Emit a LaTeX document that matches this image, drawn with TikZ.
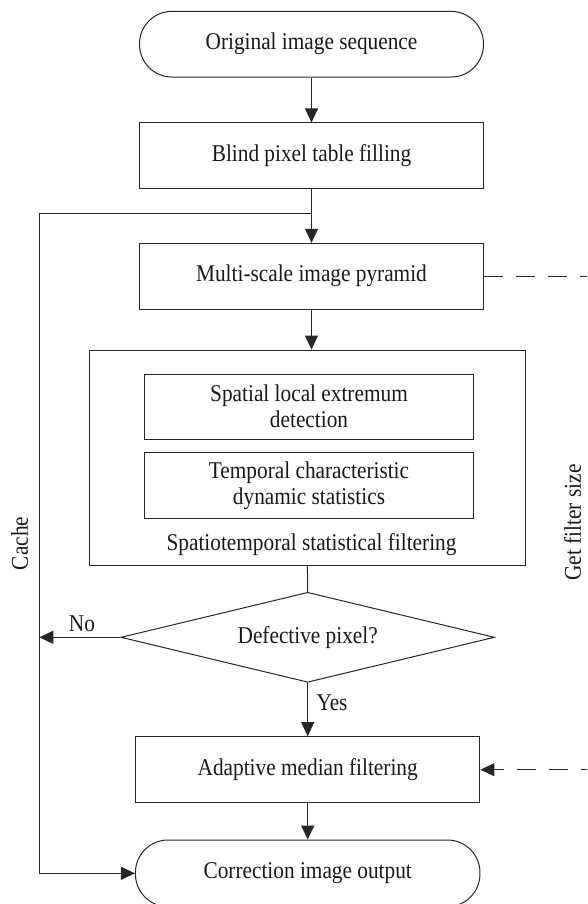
\documentclass[tikz,border=0pt]{standalone}
\usepackage{fontspec}
\setmainfont{Liberation Serif}
\usetikzlibrary{arrows.meta,shapes.geometric}
\newcommand{\vs}[1]{\scalebox{1}[1.13]{#1}}
\begin{document}
\begin{tikzpicture}[x=1pt,y=-1pt,
  every node/.style={font=\fontsize{21.3}{25.6}\selectfont, text=black!90},
  box/.style={draw=black!85, line width=1pt, minimum width=344pt, minimum height=65.7pt, inner sep=0pt, align=center},
  term/.style={box, rounded corners=32.5pt},
  arr/.style={draw=black!85, line width=1pt, -{Triangle[length=14pt,width=13pt]}},
  ln/.style={draw=black!85, line width=1pt},
  dsh/.style={draw=black!85, line width=1pt, dash pattern=on 19pt off 13pt}]
\clip (0,0) rectangle (587,904);
% nodes
\node[term] (start) at (311.5,44.2) {\vs{Original image sequence}};
\node[box] (blind) at (311.5,155.8) {\vs{Blind pixel table filling}};
\node[box] (multi) at (311.5,276.2) {\vs{Multi-scale image pyramid}};
\node[draw=black!85, line width=1pt, minimum width=435.8pt, minimum height=215pt, inner sep=0pt] (outer) at (307.4,457.5) {};
\node[box, minimum width=329pt, minimum height=65pt] (in1) at (309,406.5) {\vs{Spatial local extremum}\\\vs{detection}};
\node[box, minimum width=329pt, minimum height=65.6pt] (in2) at (309,485.5) {\vs{Temporal characteristic}\\\vs{dynamic statistics}};
\node[anchor=base] (olab) at (311.5,550.5) {\vs{Spatiotemporal statistical filtering}};
\node[draw=black!85, line width=1pt, diamond, aspect=4.15, minimum width=373.6pt, minimum height=90pt, inner sep=0pt] (dia) at (307.7,637.3) {\vs{Defective pixel?}};
\node[box, minimum width=344.5pt, minimum height=66pt] (adapt) at (307.7,769.7) {\vs{Adaptive median filtering}};
\node[term, minimum width=344.5pt, minimum height=66.6pt] (end) at (307.7,873.3) {\vs{Correction image output}};
\node (no) at (82,624) {\vs{No}};
\node (yes) at (332,703) {\vs{Yes}};
\node[rotate=90] (cache) at (19.7,543.5) {\vs{Cache}};
\node[rotate=90] (gfs) at (572.5,522.5) {\vs{Get filter size}};
% coordinates
\coordinate (j) at (311.5,213.3);
\coordinate (cl) at (39.3,213.3);
\coordinate (cno) at (39.3,637.3);
\coordinate (cb) at (39.3,873.3);
\coordinate (r1) at (600,276.2);
\coordinate (r2) at (600,769.7);
% connectors
\draw[arr] (start) -- (blind);
\draw[arr] (blind) -- (multi);
\draw[ln] (j) -- (cl) -- (cb);
\draw[arr] (cb) -- (end.west);
\draw[arr] (multi.south) -- (multi.south |- outer.north);
\draw[ln] (outer.south) -- (dia.north);
\draw[arr] (dia.west) -- (cno);
\draw[arr] (dia.south) -- (adapt.north);
\draw[arr] (adapt) -- (end);
\draw[dsh] (multi.east) -- (r1) -- (r2);
\draw[dsh, arr] (r2) -- (adapt.east);
\end{tikzpicture}
\end{document}
